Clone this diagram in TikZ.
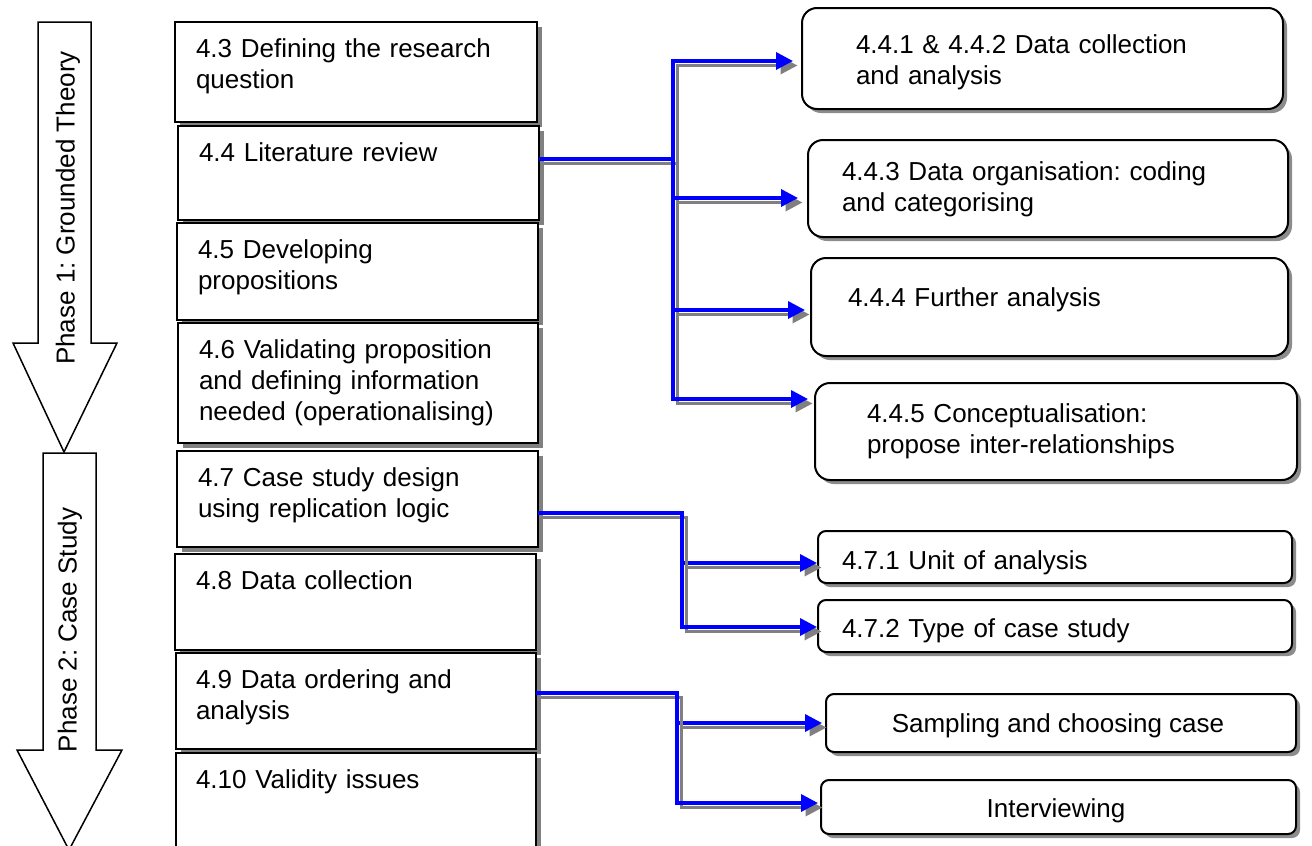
\documentclass[tikz,border=0pt]{standalone}
\usepackage{fontspec}
\setmainfont{Liberation Sans}
\usetikzlibrary{arrows.meta,shadows}
\frenchspacing

% a strut that fixes the height of the first text line
\newcommand\firstline{\rule{0pt}{20pt}}
% every connector is drawn twice: a grey shadow, then the blue line
\newcommand\link[2][]{\draw[linkshadow,#1] #2; \draw[linkline,#1] #2;}

\begin{document}
\begin{tikzpicture}[x=1pt,y=-1pt,
  every node/.style={inner sep=0pt, outer sep=0pt},
  txt/.style={font=\fontsize{26}{31}\selectfont, anchor=north west, text width=440pt, align=left},
  ctxt/.style={font=\fontsize{26}{31}\selectfont, anchor=base},
  phasetxt/.style={font=\fontsize{26}{31}\selectfont, rotate=90, anchor=center},
  phase/.style={draw=black, line width=1.5pt, fill=white, line join=miter},
  secbox/.style={draw=black, line width=2pt, fill=white, anchor=north west,
    drop shadow={shadow xshift=5pt, shadow yshift=-5pt, fill=gray, opacity=1}},
  subbox/.style={draw=black, line width=2pt, fill=white, anchor=north west, rounded corners=15pt,
    drop shadow={shadow xshift=4pt, shadow yshift=-4pt, fill=gray!90, opacity=1}},
  smallbox/.style={subbox, rounded corners=8pt},
  linkline/.style={draw=blue, line width=3.5pt, -{Triangle[length=17pt,width=17pt]}},
  linkshadow/.style={draw=gray, line width=3.5pt, -{Triangle[length=17pt,width=17pt]},
    transform canvas={shift={(4.5pt,-4.5pt)}}},
]
\useasboundingbox (0,0) rectangle (1312,846);
\fill[white] (0,0) rectangle (1312,846);

% phase arrows
\draw[phase] (38,22) -- (91,22) -- (91,343) -- (117,343) -- (64,452) -- (13,343) -- (38,343) -- cycle;
\node[phasetxt] (p1) at (68,208) {Phase 1: Grounded Theory};
\draw[phase] (43,453) -- (96,453) -- (96,750) -- (122,750) -- (69,850) -- (17,750) -- (43,750) -- cycle;
\node[phasetxt] (p2) at (70,630) {Phase 2: Case Study};

% section boxes
\node[secbox, minimum width=362pt, minimum height=100pt] (s43) at (175,22) {};
\node[secbox, minimum width=361pt, minimum height=94pt] (s44) at (178,126) {};
\node[secbox, minimum width=361pt, minimum height=97pt] (s45) at (177,223) {};
\node[secbox, minimum width=360pt, minimum height=120pt] (s46) at (178,323) {};
\node[secbox, minimum width=361pt, minimum height=96pt] (s47) at (177,451) {};
\node[secbox, minimum width=361pt, minimum height=96pt] (s48) at (175,554) {};
\node[secbox, minimum width=360pt, minimum height=96pt] (s49) at (176,653) {};
\node[secbox, minimum width=360pt, minimum height=120pt] (s410) at (176,753) {};

\node[txt] (t43) at (196,37) {\firstline 4.3 Defining the research\\question};
\node[txt] (t44) at (199,141) {\firstline 4.4 Literature review};
\node[txt] (t45) at (198,238) {\firstline 4.5 Developing\\propositions};
\node[txt] (t46) at (199,338) {\firstline 4.6 Validating proposition\\and defining information\\needed (operationalising)};
\node[txt] (t47) at (198,466) {\firstline 4.7 Case study design\\using replication logic};
\node[txt] (t48) at (196,569) {\firstline 4.8 Data collection};
\node[txt] (t49) at (196,668) {\firstline 4.9 Data ordering and\\analysis};
\node[txt] (t410) at (196,768) {\firstline 4.10 Validity issues};

% sub-topic boxes
\node[subbox, minimum width=481pt, minimum height=101pt] (A) at (802,8) {};
\node[subbox, minimum width=480pt, minimum height=97pt] (B) at (808,140) {};
\node[subbox, minimum width=477pt, minimum height=98pt] (C) at (811,258) {};
\node[subbox, minimum width=482pt, minimum height=97pt] (D) at (815,383) {};
\node[smallbox, minimum width=474pt, minimum height=52pt] (E) at (818,531) {};
\node[smallbox, minimum width=474pt, minimum height=52pt] (F) at (818,600) {};
\node[smallbox, minimum width=470pt, minimum height=58pt] (G) at (826,694) {};
\node[smallbox, minimum width=475pt, minimum height=54pt] (H) at (821,780) {};

\node[txt] (tA) at (856,33) {\firstline 4.4.1 \& 4.4.2 Data collection\\and analysis};
\node[txt] (tB) at (842,160) {\firstline 4.4.3 Data organisation: coding\\and categorising};
\node[txt] (tC) at (848,286) {\firstline 4.4.4 Further analysis};
\node[txt] (tD) at (867,402) {\firstline 4.4.5 Conceptualisation:\\propose inter-relationships};
\node[txt] (tE) at (842,549) {\firstline 4.7.1 Unit of analysis};
\node[txt] (tF) at (842,617) {\firstline 4.7.2 Type of case study};
\node[ctxt] (tG) at (1058,732) {Sampling and choosing case};
\node[ctxt] (tH) at (1056,817) {Interviewing};

% connectors
\coordinate (j1) at (673,159);
\coordinate (j2) at (682,513);
\coordinate (j3) at (677,693);

\link[shorten >=9pt]{(s44.east |- j1) -- (j1) |- (A.west |- 0,61)}
\link[shorten >=7pt]{(j1) |- (D.west |- 0,399)}
\link[shorten >=10pt]{(j1 |- 0,198) -- (B.west |- 0,198)}
\link[shorten >=6pt]{(j1 |- 0,310) -- (C.west |- 0,310)}

\link[shorten >=1pt]{(s47.east |- j2) -- (j2) |- (E.west |- 0,563)}
\link[shorten >=1pt]{(j2) |- (F.west |- 0,627)}

\link[shorten >=4pt]{(s49.east |- j3) -- (j3) |- (G.west |- 0,723)}
\link[shorten >=3pt]{(j3) |- (H.west |- 0,803)}
\end{tikzpicture}
\end{document}
